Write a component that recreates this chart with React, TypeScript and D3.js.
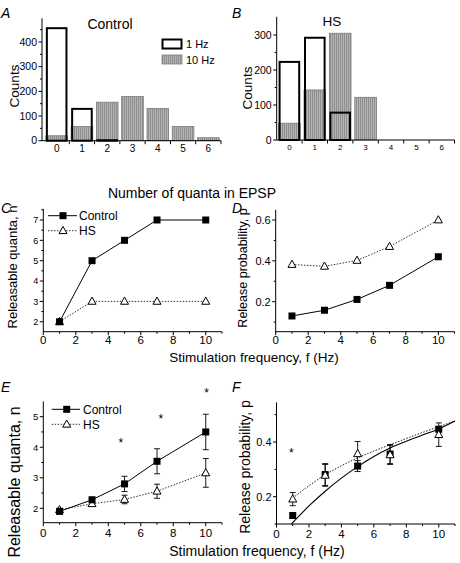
import React from "react";
import * as d3 from "d3";

// ---------- Data ----------
const quanta = [0, 1, 2, 3, 4, 5, 6];
const ctrl1Hz = [460, 133, 6, 0, 0, 0, 0];
const ctrl10Hz = [20, 58, 156, 179, 131, 58, 12];
const hs1Hz = [226, 295, 81, 0, 0, 0, 0];
const hs10Hz = [48, 143, 305, 122, 0, 0, 0];

const freqs = [1, 3, 5, 7, 10];
const nCtrlC = [2, 5, 6, 7, 7];
const nHSC = [2, 3, 3, 3, 3];
const pCtrlD = [0.13, 0.158, 0.211, 0.28, 0.42];
const pHSD = [0.382, 0.373, 0.402, 0.47, 0.6];

const nCtrlE = [1.9, 2.28, 2.8, 3.54, 4.5];
const nCtrlEErr = [0.05, 0.08, 0.25, 0.41, 0.58];
const nHSE = [1.95, 2.15, 2.29, 2.56, 3.16];
const nHSEErr = [0.05, 0.06, 0.14, 0.23, 0.47];
const starsE = [
  { f: 4.77, v: 4.18 },
  { f: 7.23, v: 4.95 },
  { f: 10.05, v: 5.8 },
];

const pCtrlF = [0.131, 0.281, 0.312, 0.356, 0.447];
const pCtrlFErr = [0.01, 0.04, 0.02, 0.035, 0.01];
const pHSF = [0.191, 0.278, 0.357, 0.353, 0.427];
const pHSFErr = [0.024, 0.04, 0.045, 0.035, 0.043];
const starsF = [{ f: 0.92, v: 0.362 }];
// fitted curves
const fitCtrlF = [
  [0.92, 0.1], [2, 0.166], [3, 0.22], [4, 0.268], [5, 0.31], [6, 0.347],
  [7, 0.378], [8, 0.403], [9, 0.426], [10, 0.448], [11, 0.477],
];
const fitHSF = [
  [1, 0.195], [2, 0.24], [3, 0.28], [4, 0.313], [5, 0.342], [6, 0.367],
  [7, 0.39], [8, 0.413], [9, 0.435], [10, 0.456], [11, 0.477],
];

const FONT = "'Liberation Sans', Arial, Helvetica, sans-serif";

type Lin = d3.ScaleLinear<number, number>;

function YAxis({ y, x0, major, minor, fmt, fs }: { y: Lin; x0: number; major: number[]; minor: number[]; fmt: (v: number) => string; fs: number }) {
  const [r0, r1] = y.range();
  return (
    <g>
      <line x1={x0} x2={x0} y1={r0} y2={r1} stroke="#000" strokeWidth={1} />
      {minor.map((v, i) => (
        <line key={"m" + i} x1={x0 - 2} x2={x0} y1={y(v)} y2={y(v)} stroke="#000" strokeWidth={1} />
      ))}
      {major.map((v, i) => (
        <g key={i}>
          <line x1={x0 - 3.5} x2={x0} y1={y(v)} y2={y(v)} stroke="#000" strokeWidth={1} />
          <text x={x0 - 5} y={y(v) + fs * 0.36} textAnchor="end" fontSize={fs} fontFamily={FONT}>
            {fmt(v)}
          </text>
        </g>
      ))}
    </g>
  );
}

function XAxis({ x, y0, major, minor, fs, labelDy, labels }: { x: Lin; y0: number; major: number[]; minor: number[]; fs: number; labelDy: number; labels?: number[] }) {
  const [r0, r1] = x.range();
  const lab = labels ?? major;
  return (
    <g>
      <line x1={r0} x2={r1} y1={y0} y2={y0} stroke="#000" strokeWidth={1} />
      {minor.map((v, i) => (
        <line key={"m" + i} x1={x(v)} x2={x(v)} y1={y0} y2={y0 + 2} stroke="#000" strokeWidth={1} />
      ))}
      {major.map((v, i) => (
        <line key={"t" + i} x1={x(v)} x2={x(v)} y1={y0} y2={y0 + 3.5} stroke="#000" strokeWidth={1} />
      ))}
      {lab.map((v, i) => (
        <text key={"l" + i} x={x(v)} y={y0 + labelDy} textAnchor="middle" fontSize={fs} fontFamily={FONT}>
          {v}
        </text>
      ))}
    </g>
  );
}

function Square({ cx, cy, s = 7 }: { cx: number; cy: number; s?: number }) {
  return <rect x={cx - s / 2} y={cy - s / 2} width={s} height={s} fill="#000" />;
}
function Tri({ cx, cy, s = 8 }: { cx: number; cy: number; s?: number }) {
  const h = s * 0.9;
  return (
    <path
      d={`M${cx},${cy - h * 0.6}L${cx + s / 2},${cy + h * 0.4}L${cx - s / 2},${cy + h * 0.4}Z`}
      fill="#fff"
      stroke="#000"
      strokeWidth={1}
    />
  );
}

function Histo({ x, y, open, filled }: { x: Lin; y: Lin; open: number[]; filled: number[] }) {
  const w = 21.6;
  const y0 = y(0);
  return (
    <g>
      {quanta.map((q, i) =>
        filled[i] > 0 ? (
          <rect key={"f" + i} x={x(q) - w / 2} y={y(filled[i])} width={w} height={y0 - y(filled[i])} fill="url(#hatch)" stroke="#7a7a7a" strokeWidth={0.8} />
        ) : null
      )}
      {quanta.map((q, i) =>
        open[i] > 0 ? (
          <rect key={"o" + i} x={x(q) - w / 2 + 1} y={y(open[i]) + 1} width={w - 2} height={Math.max(0.5, y0 - y(open[i]) - 1)} fill="none" stroke="#000" strokeWidth={2} />
        ) : null
      )}
    </g>
  );
}

export default function App() {
  // Panel A
  const xA = d3.scaleLinear().domain([-0.58, 6.5]).range([42, 221]);
  const yA = d3.scaleLinear().domain([0, 496]).range([140.7, 18.3]);
  // Panel B
  const xB = d3.scaleLinear().domain([-0.5, 6.5]).range([276.7, 454.5]);
  const yB = d3.scaleLinear().domain([0, 352]).range([140, 16.8]);
  // Panel C
  const xC = d3.scaleLinear().domain([0, 11]).range([43.3, 222]);
  const yC = d3.scaleLinear().domain([1.5, 7.55]).range([331.9, 208.8]);
  // Panel D
  const xD = d3.scaleLinear().domain([0, 11]).range([275.7, 454.6]);
  const yD = d3.scaleLinear().domain([0.05, 0.65]).range([332.3, 209.8]);
  // Panel E
  const xE = d3.scaleLinear().domain([0, 11]).range([43.3, 222]);
  const yE = d3.scaleLinear().domain([1.53, 5.5]).range([522.7, 401.4]);
  // Panel F
  const xF = d3.scaleLinear().domain([0, 11]).range([276.5, 455]);
  const yF = d3.scaleLinear().domain([0.1, 0.545]).range([524, 402.4]);

  const halfTicks = [0.5, 1.5, 2.5, 3.5, 4.5, 5.5, 6.5];
  const evenF = [0, 2, 4, 6, 8, 10];
  const oddF = [1, 3, 5, 7, 9, 11];

  const lineOf = (xs: Lin, ys: Lin, vals: number[]) =>
    d3.line<number>().x((_, i) => xs(freqs[i])).y((v) => ys(v))(vals) || "";
  const fitLine = (xs: Lin, ys: Lin, pts: number[][]) =>
    d3.line<number[]>().x((p) => xs(p[0])).y((p) => ys(p[1])).curve(d3.curveMonotoneX)(pts) || "";

  const errBars = (xs: Lin, ys: Lin, vals: number[], errs: number[], key: string) =>
    vals.map((v, i) => {
      const cx = xs(freqs[i]);
      const t = ys(v + errs[i]);
      const b = ys(v - errs[i]);
      return (
        <g key={key + i} stroke="#000" strokeWidth={0.9}>
          <line x1={cx} x2={cx} y1={t} y2={b} />
          <line x1={cx - 3} x2={cx + 3} y1={t} y2={t} />
          <line x1={cx - 3} x2={cx + 3} y1={b} y2={b} />
        </g>
      );
    });

  const panelLabel = (t: string, x: number, y: number) => (
    <text x={x} y={y} fontSize={14} fontStyle="italic" fontFamily={FONT}>
      {t}
    </text>
  );

  return (
    <svg width={460} height={563} style={{ position: "absolute", left: 0, top: 0, background: "#fff" }}>
      <defs>
        <pattern id="hatch" width={2} height={4} patternUnits="userSpaceOnUse">
          <rect width={2} height={4} fill="#b4b4b4" />
          <rect width={1} height={4} fill="#8e8e8e" />
        </pattern>
      </defs>
      <rect width={460} height={563} fill="#fff" />

      {/* ---------------- A ---------------- */}
      {panelLabel("A", 1, 18)}
      <Histo x={xA} y={yA} open={ctrl1Hz} filled={ctrl10Hz} />
      <YAxis y={yA} x0={42} major={[0, 100, 200, 300, 400]} minor={[50, 150, 250, 350, 450]} fmt={(v) => String(v)} fs={10.5} />
      <XAxis x={xA} y0={140.7} major={halfTicks} minor={[]} fs={10} labelDy={11.5} labels={quanta} />
      <text x={110} y={29} textAnchor="middle" fontSize={14} fontFamily={FONT}>Control</text>
      <rect x={162.5} y={39.5} width={19} height={9} fill="none" stroke="#000" strokeWidth={2} />
      <text x={186} y={48} fontSize={11} fontFamily={FONT}>1 Hz</text>
      <rect x={162} y={55} width={20} height={9} fill="url(#hatch)" stroke="#7a7a7a" strokeWidth={0.8} />
      <text x={186} y={63.5} fontSize={11} fontFamily={FONT}>10 Hz</text>
      <text transform="translate(19,86) rotate(-90)" textAnchor="middle" fontSize={13.5} fontFamily={FONT}>Counts</text>

      {/* ---------------- B ---------------- */}
      {panelLabel("B", 232, 18)}
      <Histo x={xB} y={yB} open={hs1Hz} filled={hs10Hz} />
      <YAxis y={yB} x0={276.7} major={[0, 100, 200, 300]} minor={[50, 150, 250]} fmt={(v) => String(v)} fs={10.5} />
      <XAxis x={xB} y0={140} major={halfTicks} minor={[]} fs={8} labelDy={10} labels={quanta} />
      <text x={332} y={26} textAnchor="middle" fontSize={13.5} fontFamily={FONT}>HS</text>
      <text transform="translate(252,88) rotate(-90)" textAnchor="middle" fontSize={13.5} fontFamily={FONT}>Counts</text>

      <text x={192} y={197.5} textAnchor="middle" fontSize={14} fontFamily={FONT}>Number of quanta in EPSP</text>

      {/* ---------------- C ---------------- */}
      {panelLabel("C", 1, 213)}
      <YAxis y={yC} x0={43.3} major={[2, 3, 4, 5, 6, 7]} minor={[2.5, 3.5, 4.5, 5.5, 6.5, 7.5]} fmt={(v) => String(v)} fs={9} />
      <XAxis x={xC} y0={331.7} major={evenF} minor={oddF} fs={11.5} labelDy={12} />
      <path d={lineOf(xC, yC, nHSC)} fill="none" stroke="#000" strokeWidth={0.8} strokeDasharray="1.5,1.5" />
      <path d={lineOf(xC, yC, nCtrlC)} fill="none" stroke="#000" strokeWidth={1} />
      {freqs.map((f, i) => <Tri key={"ct" + i} cx={xC(f)} cy={yC(nHSC[i])} />)}
      {freqs.map((f, i) => <Square key={"cs" + i} cx={xC(f)} cy={yC(nCtrlC[i])} />)}
      <line x1={48} x2={77} y1={215.7} y2={215.7} stroke="#000" strokeWidth={1} />
      <Square cx={63} cy={215.7} />
      <text x={79} y={220} fontSize={12} fontFamily={FONT}>Control</text>
      <line x1={48} x2={77} y1={230.7} y2={230.7} stroke="#000" strokeWidth={0.8} strokeDasharray="1.5,1.5" />
      <Tri cx={63} cy={230.7} />
      <text x={79} y={235} fontSize={12} fontFamily={FONT}>HS</text>
      <text transform="translate(17,267) rotate(-90)" textAnchor="middle" fontSize={13} fontFamily={FONT}>Releasable quanta, n</text>

      {/* ---------------- D ---------------- */}
      {panelLabel("D", 232, 213)}
      <YAxis y={yD} x0={275.7} major={[0.2, 0.4, 0.6]} minor={[0.1, 0.3, 0.5]} fmt={(v) => v.toFixed(1)} fs={11} />
      <XAxis x={xD} y0={331.7} major={evenF} minor={oddF} fs={11.5} labelDy={12} />
      <path d={lineOf(xD, yD, pHSD)} fill="none" stroke="#000" strokeWidth={0.8} strokeDasharray="1.5,1.5" />
      <path d={lineOf(xD, yD, pCtrlD)} fill="none" stroke="#000" strokeWidth={1} />
      {freqs.map((f, i) => <Tri key={"dt" + i} cx={xD(f)} cy={yD(pHSD[i])} />)}
      {freqs.map((f, i) => <Square key={"ds" + i} cx={xD(f)} cy={yD(pCtrlD[i])} />)}
      <text transform="translate(247,268) rotate(-90)" textAnchor="middle" fontSize={12.5} fontFamily={FONT}>Release probability, p</text>

      <text x={254} y={362} textAnchor="middle" fontSize={13.5} fontFamily={FONT}>Stimulation frequency, f (Hz)</text>

      {/* ---------------- E ---------------- */}
      {panelLabel("E", 1, 392)}
      <YAxis y={yE} x0={43.3} major={[2, 3, 4, 5]} minor={[2.5, 3.5, 4.5]} fmt={(v) => String(v)} fs={9.5} />
      <XAxis x={xE} y0={522.7} major={evenF} minor={oddF} fs={11.5} labelDy={14} />
      <path d={lineOf(xE, yE, nHSE)} fill="none" stroke="#000" strokeWidth={0.8} strokeDasharray="1.5,1.5" />
      <path d={lineOf(xE, yE, nCtrlE)} fill="none" stroke="#000" strokeWidth={1} />
      {errBars(xE, yE, nCtrlE, nCtrlEErr, "ece")}
      {errBars(xE, yE, nHSE, nHSEErr, "ehe")}
      {freqs.map((f, i) => <Tri key={"et" + i} cx={xE(f)} cy={yE(nHSE[i])} />)}
      {freqs.map((f, i) => <Square key={"es" + i} cx={xE(f)} cy={yE(nCtrlE[i])} />)}
      {starsE.map((s, i) => (
        <text key={"se" + i} x={xE(s.f)} y={yE(s.v) + 5} textAnchor="middle" fontSize={12} fontFamily={FONT}>*</text>
      ))}
      <line x1={51.7} x2={80} y1={409.3} y2={409.3} stroke="#000" strokeWidth={1} />
      <Square cx={66.7} cy={409.3} />
      <text x={83} y={413.5} fontSize={12} fontFamily={FONT}>Control</text>
      <line x1={51.7} x2={80} y1={424.3} y2={424.3} stroke="#000" strokeWidth={0.8} strokeDasharray="1.5,1.5" />
      <Tri cx={66.7} cy={424.3} />
      <text x={83} y={428.5} fontSize={12} fontFamily={FONT}>HS</text>
      <text transform="translate(20,482) rotate(-90)" textAnchor="middle" fontSize={16} fontFamily={FONT}>Releasable quanta, n</text>

      {/* ---------------- F ---------------- */}
      {panelLabel("F", 232, 392)}
      <YAxis y={yF} x0={276.5} major={[0.2, 0.4]} minor={[0.1, 0.3, 0.5]} fmt={(v) => v.toFixed(1)} fs={11} />
      <XAxis x={xF} y0={524} major={evenF} minor={oddF} fs={11.5} labelDy={13.5} />
      <path d={fitLine(xF, yF, fitHSF)} fill="none" stroke="#000" strokeWidth={0.9} strokeDasharray="1.5,1.5" />
      <path d={fitLine(xF, yF, fitCtrlF)} fill="none" stroke="#000" strokeWidth={1.1} />
      {errBars(xF, yF, pCtrlF, pCtrlFErr, "fce")}
      {errBars(xF, yF, pHSF, pHSFErr, "fhe")}
      {freqs.map((f, i) => <Square key={"fs" + i} cx={xF(f)} cy={yF(pCtrlF[i])} />)}
      {freqs.map((f, i) => <Tri key={"ft" + i} cx={xF(f)} cy={yF(pHSF[i])} />)}
      {starsF.map((s, i) => (
        <text key={"sf" + i} x={xF(s.f)} y={yF(s.v) + 5} textAnchor="middle" fontSize={12} fontFamily={FONT}>*</text>
      ))}
      <text transform="translate(250,467) rotate(-90)" textAnchor="middle" fontSize={14} fontFamily={FONT}>Release probability, p</text>

      <text x={257} y={556} textAnchor="middle" fontSize={14} fontFamily={FONT}>Stimulation frequency, f (Hz)</text>
    </svg>
  );
}
